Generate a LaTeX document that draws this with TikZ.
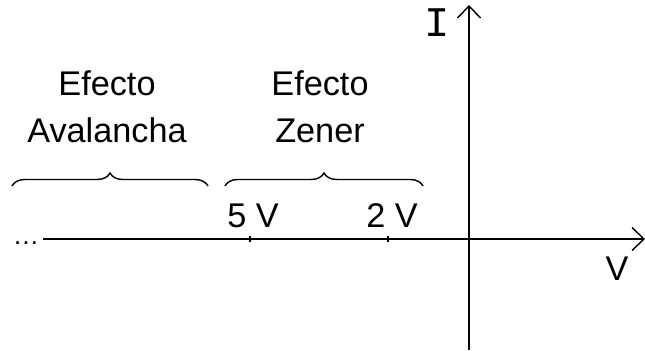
\documentclass[tikz,border=0pt]{standalone}
\usepackage{fontspec}
\setmainfont{Liberation Sans}
\newfontfamily\monofont{Liberation Mono}
\usetikzlibrary{arrows.meta,decorations.pathreplacing}

\begin{document}
\begin{tikzpicture}[
    x=0.02cm, y=-0.02cm,
    axis/.style={line width=1.1pt, draw=black},
    tip/.style={-{Straight Barb[length=0.24cm, width=0.46cm, line width=0.8pt]}},
    tick/.style={line width=1.1pt},
    brc/.style={line width=0.8pt, decorate,
        decoration={brace, amplitude=0.26cm}},
    lbl/.style={font=\fontsize{19.5}{27}\selectfont, inner sep=0pt},
]

% ---- marco ----
\useasboundingbox (0,0) rectangle (645,351);

% ---- coordenadas ----
\def\Xo{469}
\def\Yo{239}
\coordinate (origin) at (\Xo, \Yo);
\coordinate (xleft)  at (43, \Yo);
\coordinate (xright) at (645, \Yo);
\coordinate (ytop)   at (\Xo, 5);
\coordinate (ybot)   at (\Xo, 350);
\coordinate (t5)     at (250, \Yo);
\coordinate (t2)     at (388, \Yo);

% ---- ejes ----
\draw[axis, tip] (xleft) -- (xright);
\draw[axis, tip] (ybot) -- (ytop);
\node[lbl, anchor=base] (ilabel) at (437, 37) {\monofont\fontsize{24}{28}\selectfont I};
\node[lbl, anchor=base] (vlabel) at (617, 280) {V};
\node[lbl, anchor=base] (dots) at (26, 244) {\fontsize{15}{18}\selectfont\dots};

% ---- marcas ----
\foreach \t in {t5, t2} {
    \draw[tick] (\t) ++(0, -3) -- ++(0, 6);
}
\node[lbl, anchor=base] (v5) at (253, 227) {5 V};
\node[lbl, anchor=base] (v2) at (392, 227) {2 V};

% ---- llaves ----
\coordinate (aleft)  at (12, 186);
\coordinate (aright) at (208, 186);
\coordinate (zleft)  at (225, 186);
\coordinate (zright) at (423, 186);
\draw[brc] (aleft) -- (aright);
\draw[brc] (zleft) -- (zright);

% ---- textos ----
\node[lbl, align=center, anchor=north] (aval) at (107, 70) {Efecto\\Avalancha};
\node[lbl, align=center, anchor=north] (zener) at (320, 70) {Efecto\\Zener};

\end{tikzpicture}
\end{document}
